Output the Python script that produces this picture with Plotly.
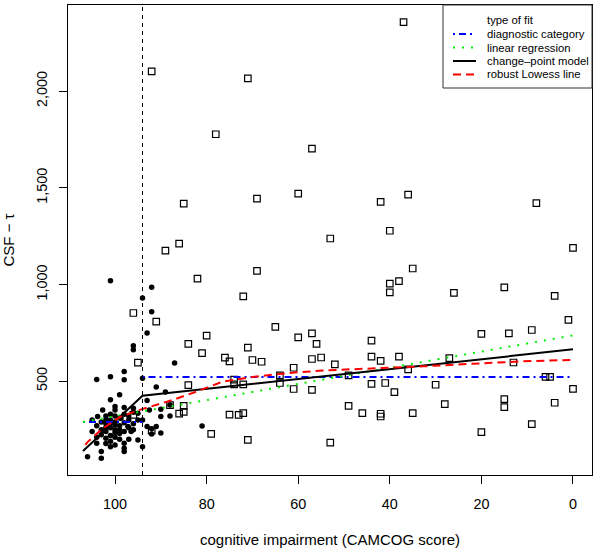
import plotly.graph_objects as go

# ---------------- data ----------------
# dementia patients (open squares): CAMCOG score, CSF-tau
sq_x = [92, 71, 78, 57, 85, 69, 60, 86, 89, 53, 82, 69, 37, 42, 36, 8, 40, 0, 35,
        40, 40, 38, 15, 26, 4, 1, 20, 14, 9, 38, 27, 36, 13, 6, 5, 30, 0, 39, 28,
        15, 15, 4, 35, 9, 20, 72, 84, 80, 81, 65, 60, 57, 56, 44, 71, 76, 75, 70,
        68, 57, 55, 52, 44, 42, 61, 74, 74, 72, 64, 64, 49, 61, 57, 44, 41, 84,
        49, 46, 42, 42, 75, 73, 72, 79, 71, 53, 96, 91, 95, 88, 85, 85, 86, 96, 92]
sq_y = [2102, 2066, 1777, 1703, 1418, 1444, 1470, 1212, 1175, 1238, 1031, 1071,
        2356, 1427, 1465, 1421, 1278, 1190, 1083, 1005, 960, 1018, 985, 957, 941,
        817, 745, 748, 765, 627, 620, 561, 597, 523, 523, 482, 461, 444, 382, 408,
        366, 389, 335, 278, 237, 939, 693, 736, 646, 781, 727, 748, 693, 710, 674,
        622, 603, 610, 601, 615, 623, 587, 627, 605, 570, 508, 484, 484, 530, 491,
        530, 460, 456, 487, 491, 480, 373, 335, 332, 318, 328, 326, 335, 228, 197,
        183, 853, 808, 596, 377, 373, 342, 333, 326, 245]

# controls (filled circles)
ci_x = [101, 92, 94, 92, 93, 96, 96, 87, 104, 101, 98, 98, 94, 91, 89, 99, 101, 93,
        100, 100, 98, 96, 90, 88, 88, 90, 92.5, 93, 92, 91, 92, 90, 94, 95, 94, 97,
        98, 98, 106, 103, 103, 101, 100, 104, 103, 81,
        101, 100, 102, 99, 101, 100, 102, 99, 101, 100, 102, 99, 100, 101, 102, 100,
        98, 97, 103, 104, 102, 99, 98, 97, 103, 105, 101, 99, 102, 97, 96, 98, 95,
        96, 96, 104, 100, 98, 102, 105, 102.7, 103.8, 95, 97.2, 96.5, 98.7]
ci_y = [1019, 986, 931, 859, 750, 684, 663, 594, 509, 523, 550, 508, 516, 471, 444,
        430, 404, 401, 369, 352, 364, 361, 356, 377, 321, 318, 352, 266, 254, 266,
        228, 232, 300, 197, 162, 200, 154, 137, 110, 137, 102, 162, 171, 180, 223,
        269,
        300, 290, 280, 270, 260, 250, 240, 230, 220, 210, 300, 310, 320, 330, 260,
        275, 285, 300, 290, 270, 320, 250, 240, 260, 250, 240, 190, 200, 205, 320,
        340, 330, 300, 280, 250, 210, 235, 180, 178, 300, 352, 318, 335, 266, 240,
        309]

cut_point = 94

# fitted lines
diag_x1 = [107, 94]
diag_y1 = [289, 289]
diag_x2 = [94, 0]
diag_y2 = [522, 522]

lin_x = [107, 0]
lin_y = [290, 737]

cp_x = [107, 94, 0]
cp_y = [140, 425, 665]

low_x = [106.5, 105.9, 103, 99, 94.6, 91.7, 87.3, 82.2, 76.4, 69.1, 61.8, 54.6,
         47.3, 40.7, 32.7, 21.8, 10.9, 0]
low_y = [171, 188, 250, 315, 352, 373, 404, 447, 499, 525, 543, 556, 563, 568,
         577, 591, 603, 611]

x_ticks = [100, 80, 60, 40, 20, 0]
y_ticks = [500, 1000, 1500, 2000]
y_tick_text = ["500", "1,000", "1,500", "2,000"]

legend_title = "type of fit"
legend_labels = ["diagnostic category", "linear regression",
                 "change\u2013point model", "robust Lowess line"]
legend_colors = ["#0000ff", "#00ee00", "#000000", "#ff0000"]

FONT = "Liberation Sans, Arial, Helvetica, sans-serif"

DASH_BLUE = "2px,4px,7px,4px"
DASH_GREEN = "2px,7px"
DASH_RED = "8px,5px"
legend_dashes = [DASH_BLUE, DASH_GREEN, "solid", DASH_RED]

# ---------------- figure ----------------
fig = go.Figure()

fig.add_trace(go.Scatter(x=ci_x, y=ci_y, mode="markers", showlegend=False,
                         marker=dict(symbol="circle", size=5.5, color="black")))
fig.add_trace(go.Scatter(x=sq_x, y=sq_y, mode="markers", showlegend=False,
                         marker=dict(symbol="square-open", size=6.5, color="black",
                                     line=dict(width=1.2, color="black"))))

fig.add_trace(go.Scatter(x=diag_x1, y=diag_y1, mode="lines", showlegend=False,
                         line=dict(color=legend_colors[0], dash=DASH_BLUE, width=2)))
fig.add_trace(go.Scatter(x=diag_x2, y=diag_y2, mode="lines", showlegend=False,
                         line=dict(color=legend_colors[0], dash=DASH_BLUE, width=2)))
fig.add_trace(go.Scatter(x=lin_x, y=lin_y, mode="lines", showlegend=False,
                         line=dict(color=legend_colors[1], dash=DASH_GREEN, width=2)))
fig.add_trace(go.Scatter(x=cp_x, y=cp_y, mode="lines", showlegend=False,
                         line=dict(color=legend_colors[2], width=2)))
fig.add_trace(go.Scatter(x=low_x, y=low_y, mode="lines", showlegend=False,
                         line=dict(color=legend_colors[3], dash=DASH_RED, width=2)))

shapes = [dict(type="line", xref="x", yref="paper", x0=cut_point, x1=cut_point,
               y0=0, y1=1, line=dict(color="black", width=1, dash="4px,4px"))]

# manual legend (R-style box)
L = 68; R = 592; T = 5; B = 475
W = R - L; H = B - T
def px(x): return (x - L) / W
def py(y): return (B - y) / H

shapes.append(dict(type="rect", xref="paper", yref="paper",
                   x0=px(443), x1=px(592), y0=py(88), y1=py(5),
                   line=dict(color="#333333", width=1), fillcolor="white", layer="above"))
annotations = [dict(xref="paper", yref="paper", x=px(485), y=py(20), text=legend_title,
                    showarrow=False, xanchor="left", yanchor="middle",
                    font=dict(family=FONT, size=11.3, color="black"))]
row_y = [34, 47.5, 61, 74.5]
for lab, col, dsh, ry in zip(legend_labels, legend_colors, legend_dashes, row_y):
    shapes.append(dict(type="line", xref="paper", yref="paper", x0=px(453), x1=px(476),
                       y0=py(ry), y1=py(ry), layer="above",
                       line=dict(color=col, width=2, dash=dsh)))
    annotations.append(dict(xref="paper", yref="paper", x=px(485), y=py(ry), text=lab,
                            showarrow=False, xanchor="left", yanchor="middle",
                            font=dict(family=FONT, size=11.3, color="black")))

fig.update_layout(
    width=600, height=552,
    margin=dict(l=L, r=600 - R, t=T, b=552 - B),
    paper_bgcolor="white", plot_bgcolor="white",
    font=dict(family=FONT, size=14, color="black"),
    shapes=shapes, annotations=annotations,
    xaxis=dict(range=[110.27, -4.15], tickvals=x_ticks, ticks="outside", ticklen=8,
               tickcolor="black", showgrid=False, zeroline=False, showline=True,
               linecolor="black", linewidth=1, mirror=True,
               tickfont=dict(size=14.4), ticklabelstandoff=8,
               title=dict(text="cognitive impairment (CAMCOG score)", standoff=23,
                          font=dict(size=15))),
    yaxis=dict(range=[15.5, 2445], tickvals=y_ticks, ticktext=y_tick_text,
               ticks="outside", ticklen=8, tickcolor="black", tickangle=-90,
               showgrid=False, zeroline=False, showline=True, linecolor="black",
               linewidth=1, mirror=True, tickfont=dict(size=14.4), ticklabelstandoff=6,
               title=dict(text="CSF \u2212 \u03c4", standoff=16, font=dict(size=15))),
)

fig.write_html("out.html", config={"displayModeBar": False},
               post_script="document.body.style.margin='0';")
